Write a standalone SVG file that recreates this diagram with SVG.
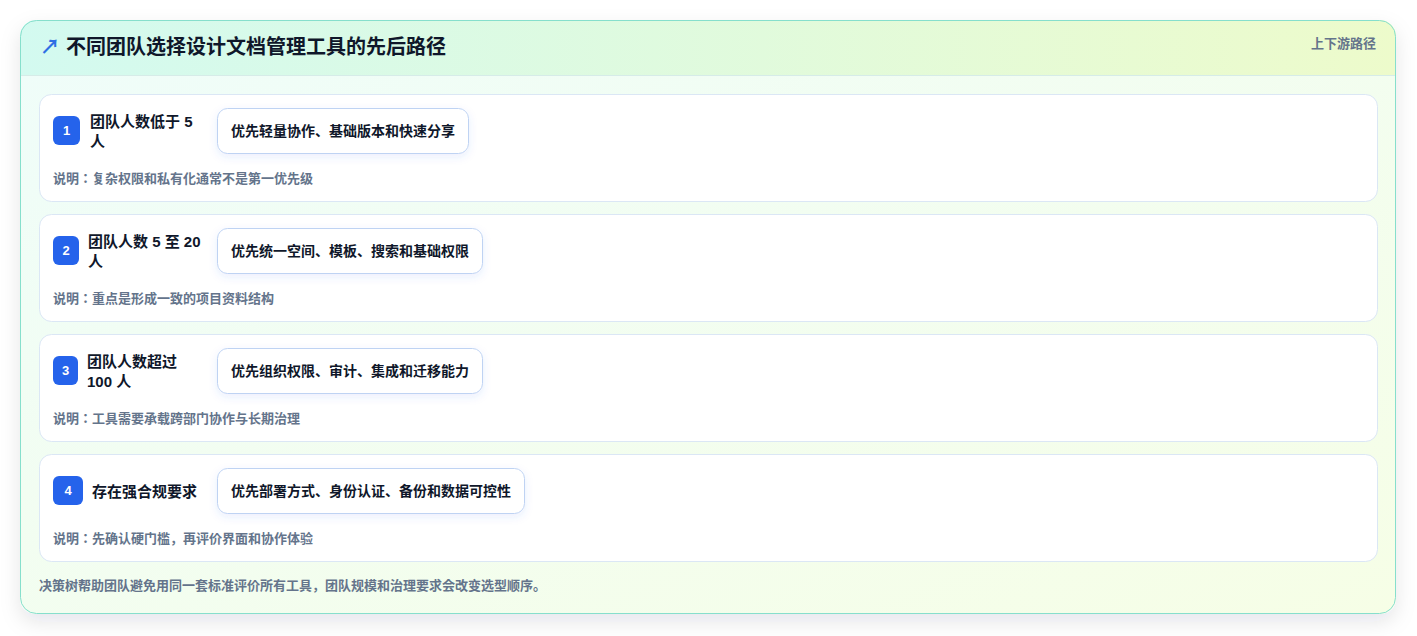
<svg xmlns="http://www.w3.org/2000/svg" width="1417" height="636" viewBox="0 0 1417 636">
<defs>
<linearGradient id="hdr" x1="0" y1="0" x2="1" y2="0">
<stop offset="0" stop-color="#d3faf0"/>
<stop offset="1" stop-color="#edfbcb"/>
</linearGradient>
<linearGradient id="body" x1="0" y1="0" x2="1" y2="1">
<stop offset="0" stop-color="#effdfa"/>
<stop offset="1" stop-color="#f6fee6"/>
</linearGradient>
<clipPath id="cardClip"><rect x="20" y="20" width="1376" height="594" rx="16"/></clipPath>
<filter id="cardShadow" x="-5%" y="-10%" width="110%" height="125%">
<feDropShadow dx="0" dy="8" stdDeviation="10" flood-color="#0f172a" flood-opacity="0.10"/>
</filter>
<filter id="boxShadow" x="-10%" y="-30%" width="120%" height="170%">
<feDropShadow dx="0" dy="3" stdDeviation="4" flood-color="#2563eb" flood-opacity="0.10"/>
</filter>
<style>
text{font-family:"Liberation Sans","Noto Sans CJK SC",sans-serif;font-weight:bold}
.title{font-size:20px;fill:#0f172a}
.tag{font-size:13px;fill:#64748b}
.row{fill:#ffffff;stroke:#dbe7f5;stroke-width:1}
.badge{fill:#2563eb}
.num{font-size:13px;fill:#ffffff;text-anchor:middle}
.lbl{font-size:15px;fill:#0f172a}
.box{fill:#ffffff;stroke:#bfd3f3;stroke-width:1}
.boxt{font-size:14px;fill:#0f172a;text-anchor:middle}
.desc{font-size:13px;fill:#64748b;font-family:"Liberation Sans","Noto Sans CJK JP",sans-serif}
</style>
</defs>
<rect x="0" y="0" width="1417" height="636" fill="#ffffff"/>
<g id="card">
<rect x="20" y="20" width="1376" height="594" rx="16" fill="url(#body)" filter="url(#cardShadow)"/>
<g clip-path="url(#cardClip)">
<rect x="20" y="20" width="1376" height="55" fill="url(#hdr)"/>
<line x1="20" y1="75.5" x2="1396" y2="75.5" stroke="#d6ece8" stroke-width="1"/>
</g>
<rect x="20.5" y="20.5" width="1375" height="593" rx="16" fill="none" stroke="#86dfcc" stroke-width="1"/>
<text x="40" y="54" style="font-size:20px;fill:#2f6fe4">↗</text>
<text x="66" y="54" class="title">不同团队选择设计文档管理工具的先后路径</text>
<text x="1376" y="48" class="tag" text-anchor="end">上下游路径</text>
</g>
<g id="node1">
<rect x="39.5" y="94.5" width="1338" height="107" rx="12" class="row"/>
<rect x="53" y="116" width="27" height="29" rx="6" class="badge"/>
<text x="66.5" y="135" class="num">1</text>
<text x="90" y="127" class="lbl">团队人数低于 5</text>
<text x="90" y="147" class="lbl">人</text>
<rect x="217.5" y="108.5" width="251" height="45" rx="10" class="box" filter="url(#boxShadow)"/>
<text x="343" y="135.5" class="boxt">优先轻量协作、基础版本和快速分享</text>
<text x="53" y="183" class="desc">说明：复杂权限和私有化通常不是第一优先级</text>
</g>
<g id="node2">
<rect x="39.5" y="214.5" width="1338" height="107" rx="12" class="row"/>
<rect x="53" y="236" width="26" height="29" rx="6" class="badge"/>
<text x="66" y="255" class="num">2</text>
<text x="88" y="247" class="lbl">团队人数 5 至 20</text>
<text x="88" y="267" class="lbl">人</text>
<rect x="217.5" y="228.5" width="265" height="45" rx="10" class="box" filter="url(#boxShadow)"/>
<text x="350" y="255.5" class="boxt">优先统一空间、模板、搜索和基础权限</text>
<text x="53" y="303" class="desc">说明：重点是形成一致的项目资料结构</text>
</g>
<g id="node3">
<rect x="39.5" y="334.5" width="1338" height="107" rx="12" class="row"/>
<rect x="53" y="356" width="25" height="29" rx="6" class="badge"/>
<text x="65.5" y="375" class="num">3</text>
<text x="87" y="367" class="lbl">团队人数超过</text>
<text x="87" y="387" class="lbl">100 人</text>
<rect x="217.5" y="348.5" width="265" height="45" rx="10" class="box" filter="url(#boxShadow)"/>
<text x="350" y="375.5" class="boxt">优先组织权限、审计、集成和迁移能力</text>
<text x="53" y="423" class="desc">说明：工具需要承载跨部门协作与长期治理</text>
</g>
<g id="node4">
<rect x="39.5" y="454.5" width="1338" height="107" rx="12" class="row"/>
<rect x="53" y="476" width="30" height="29" rx="6" class="badge"/>
<text x="68" y="495" class="num">4</text>
<text x="92" y="497" class="lbl">存在强合规要求</text>
<rect x="217.5" y="468.5" width="307" height="45" rx="10" class="box" filter="url(#boxShadow)"/>
<text x="371" y="495.5" class="boxt">优先部署方式、身份认证、备份和数据可控性</text>
<text x="53" y="543" class="desc">说明：先确认硬门槛，再评价界面和协作体验</text>
</g>
<g id="connectors"></g>
<text x="39" y="590" class="desc">决策树帮助团队避免用同一套标准评价所有工具，团队规模和治理要求会改变选型顺序。</text>
</svg>
